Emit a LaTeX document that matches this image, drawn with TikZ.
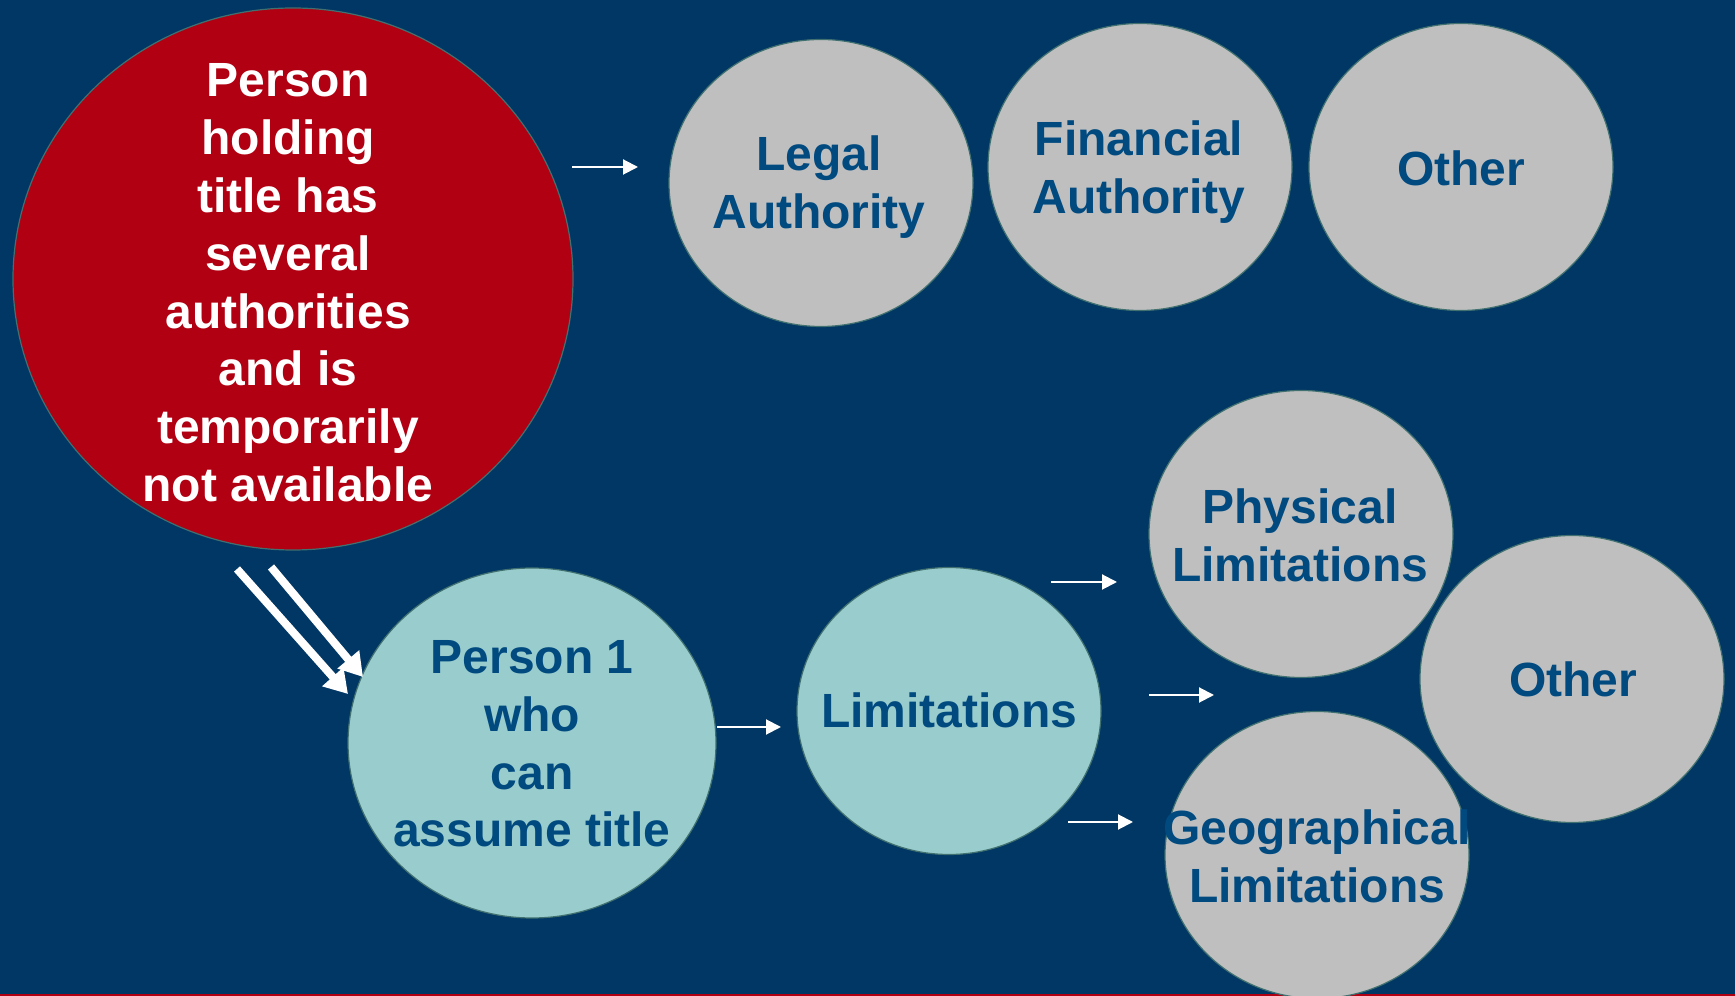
\documentclass[tikz,border=0pt]{standalone}
\usepackage{fontspec}
\setmainfont{Liberation Sans}
\usetikzlibrary{shapes.geometric,arrows.meta}
\definecolor{bgblue}{RGB}{0,55,100}
\definecolor{redfill}{RGB}{176,0,18}
\definecolor{grayfill}{RGB}{191,191,191}
\definecolor{tealfill}{RGB}{153,204,204}
\definecolor{txtblue}{RGB}{0,74,128}
\definecolor{rimcol}{RGB}{64,112,112}
\tikzset{
  bubble/.style={ellipse, draw=rimcol, line width=1.2pt, inner sep=0pt},
  redbub/.style={bubble, fill=redfill, minimum width=560pt, minimum height=542pt},
  graybub/.style={bubble, fill=grayfill, minimum width=304pt, minimum height=287pt},
  tealbub/.style={bubble, fill=tealfill, minimum width=304pt, minimum height=287pt},
  bigteal/.style={bubble, fill=tealfill, minimum width=368pt, minimum height=350pt},
  lbl/.style={align=center, inner sep=0pt, text=txtblue, font=\fontsize{48}{57.8}\selectfont\bfseries},
  wlbl/.style={lbl, text=white},
  thinarrow/.style={draw=white, line width=2pt, -{Triangle[length=15pt,width=15pt]}},
  thickarrow/.style={draw=white, line width=8pt, -{Triangle[length=23pt,width=27pt]}}
}
\begin{document}
\begin{tikzpicture}[x=1pt,y=1pt]
\fill[bgblue] (0,0) rectangle (1735,996);
\useasboundingbox (0,0) rectangle (1735,996);
\fill[redfill] (0,0) rectangle (1735,2);
% bubbles
\node[redbub] (red) at (293,717) {};
\node[graybub] (legal) at (821,813) {};
\node[graybub] (fin) at (1140,829) {};
\node[graybub] (othera) at (1461,829) {};
\node[bigteal] (pone) at (532,253) {};
\node[tealbub] (lim) at (949,285) {};
\node[graybub] (phys) at (1301,462) {};
\node[graybub] (otherb) at (1572,317) {};
\node[graybub] (geo) at (1317,141) {};
% labels
\node[wlbl] (redt) at (288,713) {Person\\holding\\title has\\several\\authorities\\and is\\temporarily\\not available};
\node[lbl] (legalt) at (819,809) {Legal\\Authority};
\node[lbl] (fint) at (1139,824) {Financial\\Authority};
\node[lbl] (otherat) at (1461,828) {Other};
\node[lbl] (ponet) at (532,252) {Person 1\\who\\can\\assume title};
\node[lbl] (limt) at (949,286) {Limitations};
\node[lbl] (physt) at (1300,461) {Physical\\Limitations};
\node[lbl] (otherbt) at (1573,317) {Other};
\node[lbl] (geot) at (1317,140) {Geographical\\Limitations};
% arrow end points
\coordinate (a1s) at (572,829); \coordinate (a1e) at (638,829);
\coordinate (a2s) at (717,269); \coordinate (a2e) at (781,269);
\coordinate (a3s) at (1051,414); \coordinate (a3e) at (1117,414);
\coordinate (a4s) at (1149,301); \coordinate (a4e) at (1214,301);
\coordinate (a5s) at (1068,174); \coordinate (a5e) at (1133,174);
\coordinate (d1s) at (237,427); \coordinate (d1e) at (348,302);
\coordinate (d2s) at (271,429); \coordinate (d2e) at (363,319);
\draw[thinarrow] (a1s) -- (a1e);
\draw[thinarrow] (a2s) -- (a2e);
\draw[thinarrow] (a3s) -- (a3e);
\draw[thinarrow] (a4s) -- (a4e);
\draw[thinarrow] (a5s) -- (a5e);
\draw[thickarrow] (d1s) -- (d1e);
\draw[thickarrow] (d2s) -- (d2e);
\end{tikzpicture}
\end{document}
